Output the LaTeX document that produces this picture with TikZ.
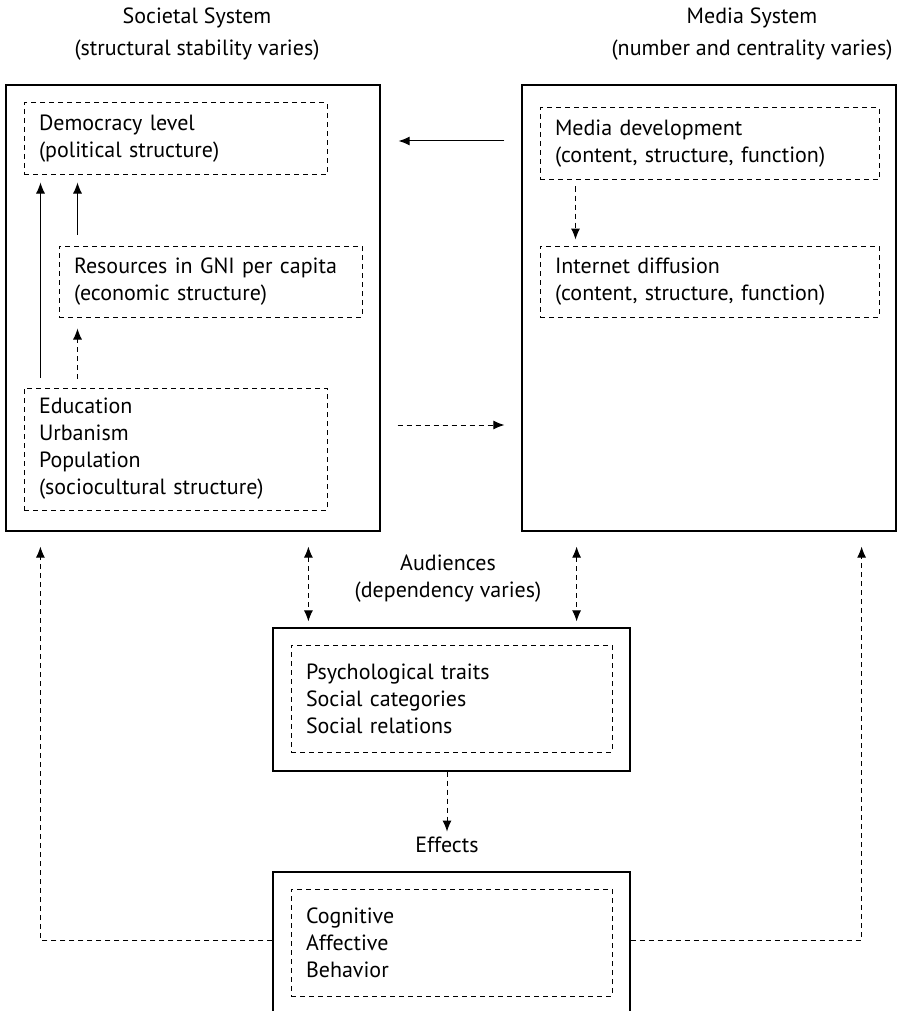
\documentclass[tikz,border=0pt]{standalone}
\usepackage{fontspec}
\setmainfont{PT Sans}
\usetikzlibrary{arrows.meta}

\begin{document}
\begin{tikzpicture}[x=1pt, y=-1pt,
		every node/.style={font=\fontsize{22}{27}\selectfont},
		heading/.style={align=center, font=\fontsize{22}{32}\selectfont},
		sysbox/.style={draw=black, line width=1.2pt, minimum width=374pt, minimum height=446pt},
		groupbox/.style={draw=black, line width=1.2pt, minimum width=357pt},
		partbox/.style={draw=black, line width=1pt, dash pattern=on 5pt off 4pt, inner xsep=15pt, align=left},
		solidarrow/.style={line width=1pt, -{Latex[length=11pt, width=9pt]}},
		dasharrow/.style={line width=1pt, dash pattern=on 5pt off 4pt, -{Latex[length=11pt, width=9pt]}},
		bothways/.style={dasharrow, {Latex[length=11pt, width=9pt]}-{Latex[length=11pt, width=9pt]}}]
		\useasboundingbox (0,0) rectangle (897,1011);
		\clip (0,0) rectangle (897,1011);
		
		\node[heading] (soctitle) at (197, 34) {Societal System\\(structural stability varies)};
		\node[heading] (medtitle) at (752, 34) {Media System\\(number and centrality varies)};
		
		\node[sysbox] (socsys) at (193, 308) {};
		\node[sysbox] (medsys) at (709, 308) {};
		
		\node[partbox, text width=273pt, minimum height=72pt] (dem) at (175.5, 139) {Democracy level\\(political structure)};
		\node[partbox, text width=273pt, minimum height=71pt] (res) at (210.5, 281.5) {Resources in GNI per capita\\(economic structure)};
		\node[partbox, text width=273pt, minimum height=122pt] (edu) at (175.5, 449) {Education\\Urbanism\\Population\\(sociocultural structure)};
		\node[partbox, text width=309pt, minimum height=72pt] (devel) at (709.5, 144) {Media development\\(content, structure, function)};
		\node[partbox, text width=309pt, minimum height=71pt] (inet) at (709.5, 281.5) {Internet diffusion\\(content, structure, function)};
		
		\node[align=center] (audtitle) at (448, 579) {Audiences\\(dependency varies)};
		\node[groupbox, minimum height=143pt] (aud) at (451.5, 699.5) {};
		\node[partbox, text width=291pt, minimum height=107pt] (traits) at (451.5, 698.5) {Psychological traits\\Social categories\\Social relations};
		
		\node (efftitle) at (447, 845) {Effects};
		\node[groupbox, minimum height=200pt] (eff) at (451.5, 972) {};
		\node[partbox, text width=291pt, minimum height=107pt] (kinds) at (451.5, 942.5) {Cognitive\\Affective\\Behavior};
		
		\coordinate (upper) at (451, 141);
		\coordinate (lower) at (451, 425);
		\coordinate (fb) at (451, 940);
		
		\draw[solidarrow, shorten <=10pt, shorten >=7pt] ([xshift=17pt]edu.north west) -- ([xshift=17pt]dem.south west);
		\draw[solidarrow, shorten <=11pt, shorten >=7pt] ([xshift=19pt]res.north west) -- ([xshift=19pt]res.north west |- dem.south);
		\draw[dasharrow, shorten <=9pt, shorten >=11pt] ([xshift=54pt]edu.north west) -- ([xshift=19pt]res.south west);
		\draw[dasharrow, shorten <=6pt, shorten >=6pt] ([xshift=36pt]devel.south west) -- ([xshift=36pt]inet.north west);
		
		\draw[solidarrow, shorten <=17pt, shorten >=18pt] (medsys.west |- upper) -- (socsys.east |- upper);
		\draw[dasharrow, shorten <=17pt, shorten >=17pt] (socsys.east |- lower) -- (medsys.west |- lower);
		
		\draw[bothways, shorten <=15pt, shorten >=6pt] ([xshift=36pt]aud.north west |- socsys.south) -- ([xshift=36pt]aud.north west);
		\draw[bothways, shorten <=15pt, shorten >=6pt] ([xshift=-54pt]aud.north east |- medsys.south) -- ([xshift=-54pt]aud.north east);
		\draw[dasharrow, shorten >=2pt] (aud.south -| efftitle) -- (efftitle.north);
		
		\draw[dasharrow, shorten >=15pt] (eff.west |- fb) -| ([xshift=35pt]socsys.south west);
		\draw[dasharrow, shorten >=15pt] (eff.east |- fb) -| ([xshift=-35pt]medsys.south east);
	\end{tikzpicture}
\end{document}
